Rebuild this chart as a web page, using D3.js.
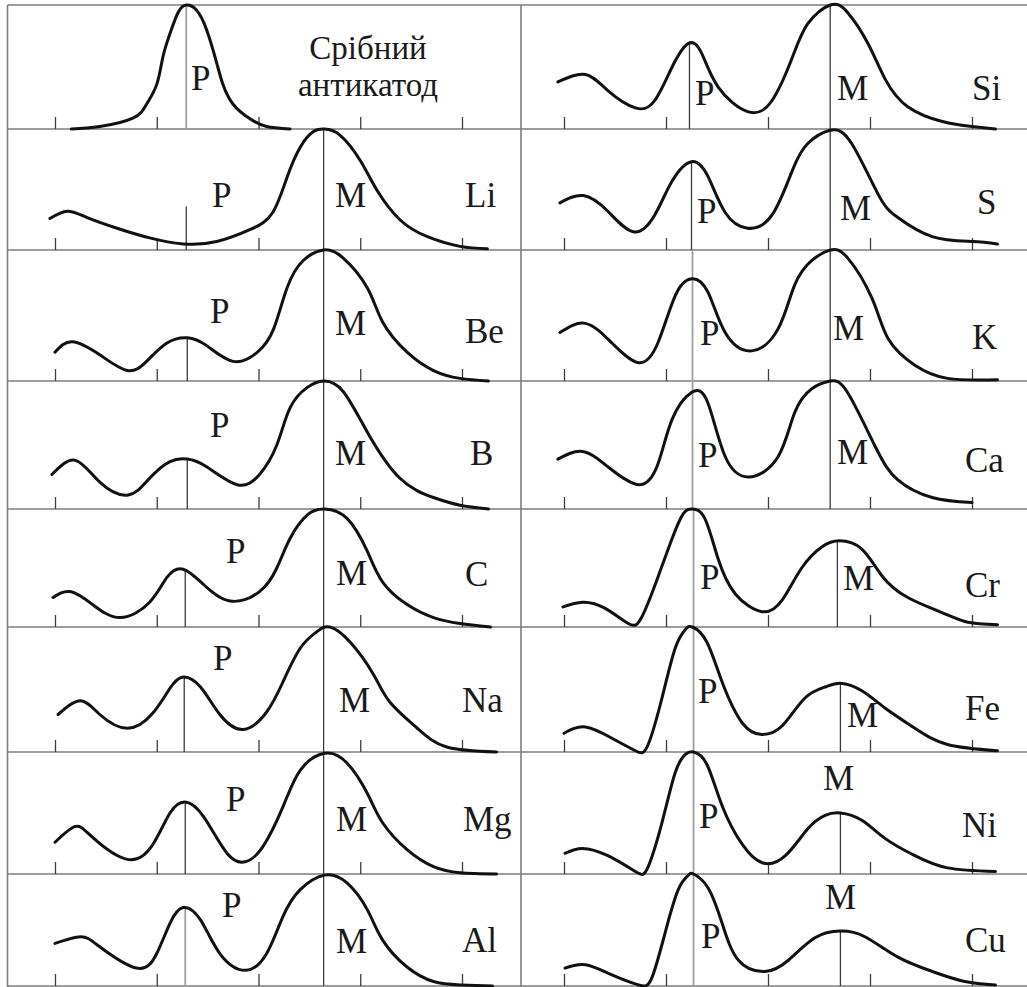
<!DOCTYPE html>
<html>
<head>
<meta charset="utf-8">
<script src="https://cdn.jsdelivr.net/npm/d3@7"></script>
<style>
  html, body { margin: 0; padding: 0; background: #fff; }
  svg { display: block; }
</style>
</head>
<body>
<svg id="chart" width="1027" height="987"></svg>
<script>
// Intensity profiles: [position in tick units (0..4), height as share of the panel]
const curveAg = [[0.16,0],[0.44,0.02],[0.77,0.09],[0.90,0.20],[1.0,0.36],[1.06,0.58],[1.13,0.77],[1.21,0.94],[1.29,1.0],[1.39,0.96],[1.49,0.80],[1.59,0.53],[1.65,0.36],[1.75,0.20],[1.92,0.08],[2.08,0.02],[2.31,0]];
const curveLi = [[-0.05,0.26],[0.12,0.32],[0.31,0.27],[0.61,0.18],[0.93,0.10],[1.26,0.05],[1.59,0.07],[1.92,0.17],[2.14,0.31],[2.28,0.60],[2.41,0.85],[2.54,0.98],[2.65,1.0],[2.80,0.95],[3.0,0.74],[3.16,0.50],[3.39,0.25],[3.66,0.11],[3.98,0.03],[4.25,0.01]];
const curveBe = [[0,0.22],[0.17,0.30],[0.44,0.20],[0.71,0.08],[0.90,0.15],[1.10,0.29],[1.30,0.33],[1.49,0.27],[1.75,0.15],[1.99,0.22],[2.15,0.40],[2.28,0.71],[2.44,0.92],[2.64,1.0],[2.83,0.94],[3.07,0.71],[3.22,0.45],[3.46,0.22],[3.72,0.08],[3.98,0.02],[4.26,0]];
const curveB  = [[-0.03,0.27],[0.2,0.38],[0.44,0.21],[0.72,0.11],[0.93,0.24],[1.13,0.37],[1.30,0.39],[1.49,0.33],[1.79,0.19],[2.01,0.27],[2.18,0.50],[2.31,0.79],[2.48,0.95],[2.64,1.0],[2.83,0.92],[3.07,0.60],[3.39,0.24],[3.72,0.09],[3.98,0.03],[4.26,0]];
const curveC  = [[-0.02,0.25],[0.15,0.30],[0.37,0.19],[0.64,0.08],[0.93,0.21],[1.10,0.42],[1.26,0.49],[1.46,0.36],[1.72,0.22],[2.01,0.30],[2.18,0.50],[2.31,0.75],[2.48,0.95],[2.65,1.0],[2.87,0.92],[3.07,0.64],[3.22,0.38],[3.46,0.19],[3.72,0.08],[3.98,0.03],[4.28,0]];
const curveNa = [[0.03,0.30],[0.25,0.41],[0.44,0.30],[0.71,0.19],[0.96,0.31],[1.13,0.51],[1.26,0.60],[1.43,0.52],[1.62,0.30],[1.85,0.18],[2.08,0.32],[2.24,0.56],[2.41,0.83],[2.57,0.96],[2.70,1.0],[2.90,0.88],[3.13,0.62],[3.29,0.40],[3.56,0.19],[3.85,0.04],[4.34,0]];
const curveMg = [[0,0.26],[0.2,0.39],[0.37,0.30],[0.71,0.12],[0.96,0.24],[1.13,0.50],[1.28,0.59],[1.46,0.47],[1.69,0.17],[1.87,0.10],[2.04,0.22],[2.24,0.55],[2.41,0.85],[2.65,0.99],[2.87,0.91],[3.07,0.66],[3.22,0.42],[3.46,0.20],[3.72,0.06],[3.98,0.01],[4.34,0]];
const curveAl = [[0,0.38],[0.25,0.44],[0.44,0.35],[0.80,0.16],[1.0,0.29],[1.13,0.56],[1.26,0.70],[1.43,0.59],[1.62,0.29],[1.87,0.14],[2.08,0.29],[2.24,0.62],[2.41,0.86],[2.65,0.99],[2.87,0.92],[3.07,0.68],[3.22,0.41],[3.46,0.17],[3.72,0.04],[3.98,0.01],[4.3,0]];

const curveSi = [[-0.06,0.38],[0.21,0.44],[0.43,0.31],[0.70,0.17],[0.89,0.23],[1.06,0.50],[1.22,0.69],[1.35,0.61],[1.51,0.34],[1.80,0.14],[2.04,0.23],[2.24,0.58],[2.39,0.85],[2.61,1.0],[2.78,0.94],[2.98,0.69],[3.15,0.40],[3.37,0.18],[3.71,0.06],[4.0,0.02],[4.23,0]];
const curveS  = [[-0.04,0.39],[0.19,0.45],[0.43,0.32],[0.68,0.15],[0.89,0.29],[1.06,0.57],[1.25,0.73],[1.41,0.61],[1.58,0.31],[1.80,0.18],[2.04,0.29],[2.24,0.66],[2.39,0.88],[2.61,0.99],[2.82,0.88],[3.08,0.46],[3.27,0.27],[3.61,0.11],[4.0,0.07],[4.25,0.05]];
const curveK  = [[-0.04,0.37],[0.21,0.44],[0.47,0.29],[0.73,0.14],[0.92,0.29],[1.09,0.65],[1.25,0.78],[1.41,0.68],[1.58,0.37],[1.84,0.23],[2.10,0.40],[2.26,0.73],[2.43,0.92],[2.61,1.0],[2.78,0.94],[3.02,0.63],[3.18,0.32],[3.44,0.12],[3.76,0.02],[4.25,0.01]];
const curveCa = [[-0.06,0.39],[0.18,0.45],[0.43,0.33],[0.73,0.19],[0.92,0.35],[1.06,0.70],[1.25,0.91],[1.41,0.83],[1.58,0.41],[1.82,0.25],[2.10,0.41],[2.26,0.75],[2.43,0.94],[2.61,1.0],[2.78,0.91],[3.05,0.49],[3.27,0.23],[3.61,0.09],[4.0,0.05]];
const curveCr = [[-0.01,0.17],[0.18,0.21],[0.40,0.16],[0.63,0.03],[0.76,0.08],[0.92,0.42],[1.06,0.75],[1.17,0.96],[1.26,1.0],[1.38,0.92],[1.51,0.58],[1.68,0.28],[1.94,0.13],[2.14,0.23],[2.33,0.50],[2.53,0.68],[2.70,0.73],[2.92,0.66],[3.12,0.43],[3.37,0.25],[3.71,0.12],[3.96,0.04],[4.25,0.02]];
const curveFe = [[0,0.15],[0.21,0.20],[0.47,0.11],[0.70,0.01],[0.82,0.05],[0.96,0.43],[1.09,0.83],[1.19,0.98],[1.26,1.0],[1.40,0.88],[1.55,0.56],[1.75,0.23],[1.94,0.14],[2.14,0.21],[2.36,0.43],[2.56,0.52],[2.71,0.55],[2.92,0.49],[3.15,0.35],[3.44,0.19],[3.76,0.06],[4.25,0.01]];
const curveNi = [[0.01,0.17],[0.18,0.21],[0.43,0.15],[0.70,0.02],[0.82,0.05],[0.96,0.42],[1.09,0.83],[1.19,0.98],[1.27,1.0],[1.40,0.90],[1.55,0.56],[1.75,0.24],[1.95,0.09],[2.17,0.15],[2.39,0.37],[2.56,0.48],[2.71,0.50],[2.92,0.44],[3.15,0.29],[3.44,0.15],[3.76,0.05],[4.23,0.02]];
const curveCu = [[0.01,0.16],[0.21,0.19],[0.47,0.10],[0.73,0.01],[0.86,0.07],[0.99,0.47],[1.12,0.86],[1.22,0.99],[1.27,1.0],[1.41,0.88],[1.55,0.56],[1.71,0.23],[1.97,0.13],[2.20,0.23],[2.46,0.43],[2.71,0.49],[2.95,0.44],[3.27,0.26],[3.61,0.13],[3.93,0.04],[4.23,0.01]];

// Panel names, top to bottom
const leftNames  = ["Срібний антикатод", "Li", "Be", "B", "C", "Na", "Mg", "Al"];
const rightNames = ["Si", "S", "K", "Ca", "Cr", "Fe", "Ni", "Cu"];
const leftCurves  = [curveAg, curveLi, curveBe, curveB, curveC, curveNa, curveMg, curveAl];
const rightCurves = [curveSi, curveS, curveK, curveCa, curveCr, curveFe, curveNi, curveCu];

// Marker lines P and M: position (tick units) and height (share of panel)
const leftPPos  = [1.29, 1.29, 1.30, 1.30, 1.28, 1.27, 1.28, 1.28];
const leftPTop  = [1.0, 0.36, 0.33, 0.39, 0.49, 0.60, 0.59, 0.70];
const leftMPos  = [null, 2.64, 2.64, 2.64, 2.64, 2.64, 2.64, 2.64];
const leftMTop  = [null, 1.0, 1.0, 1.0, 1.0, 1.0, 1.0, 1.0];
const rightPPos = [1.23, 1.25, 1.26, 1.26, 1.27, 1.27, 1.27, 1.27];
const rightPTop = [0.69, 0.73, 1.0, 1.0, 1.0, 1.0, 1.0, 1.0];
const rightMPos = [2.61, 2.61, 2.61, 2.61, 2.68, 2.71, 2.71, 2.71];
const rightMTop = [1.0, 1.0, 1.0, 1.0, 0.73, 0.55, 0.50, 0.49];

const tickValues = [0, 1, 2, 3, 4];

// ---- layout ----
const W = 1027, H = 987;
const rowTops = [5, 129, 250, 381, 509, 627, 752, 874];
const lastBottom = 986;
const columns = [
  { left: 7.5, right: 521, x0: 55,  step: 101.75 },
  { left: 521, right: 1027, x0: 564, step: 102 }
];
// label offsets: [P dx, P dy, M dx, M dy, name dx, name dy] from column origin / row top
const leftSpots = [
  [136, 85, null, null, 313, 54],
  [157, 78, 280, 78, 410, 78],
  [155, 73, 280, 85, 410, 93],
  [155, 56, 280, 84, 415, 84],
  [171, 54, 281, 76, 410, 77],
  [158, 43, 284, 85, 407, 85],
  [171, 59, 281, 79, 408, 79],
  [167, 43, 281, 79, 407, 78]
];
const rightSpots = [
  [131, 100, 273, 95, 408, 95],
  [133, 94, 276, 91, 413, 85],
  [136, 95, 269, 90, 408, 99],
  [134, 86, 273, 83, 401, 91],
  [136, 80, 279, 81, 401, 88],
  [134, 76, 283, 100, 401, 93],
  [135, 76, 259, 38, 398, 85],
  [137, 74, 261, 35, 401, 78]
];
const leftPFaint  = [true, false, false, false, false, false, false, true];
const rightPFaint = [false, false, true, true, true, true, true, true];

const FRAME = "#7d7d7d", INK = "#111", MARK = "#3c3c3c", FAINT = "#a0a0a0";
const FONT = "'Liberation Serif', 'Times New Roman', 'DejaVu Serif', serif";
const FONT_SIZE = 35;
const CAPTION_SIZE = 33, CAPTION_LEAD = 37;

const svg = d3.select("#chart");

// outer frame: top rule and column dividers
svg.append("line").attr("x1", columns[0].left).attr("x2", W).attr("y1", rowTops[0]).attr("y2", rowTops[0])
  .attr("stroke", FRAME).attr("stroke-width", 1.6);
columns.forEach(c => {
  svg.append("line").attr("x1", c.left).attr("x2", c.left).attr("y1", rowTops[0]).attr("y2", H)
    .attr("stroke", FRAME).attr("stroke-width", 1.6);
});

function drawColumn(col, curves, names, pPos, pTop, mPos, mTop, spots, pFaint) {
  const x = d3.scaleLinear().domain([0, 4]).range([col.x0, col.x0 + 4 * col.step]);
  curves.forEach((data, i) => {
    const top = rowTops[i];
    const bottom = i + 1 < rowTops.length ? rowTops[i + 1] : lastBottom;
    const y = d3.scaleLinear().domain([0, 1]).range([bottom, top]);
    const g = svg.append("g");

    // baseline rule
    g.append("line").attr("x1", col.left).attr("x2", col.right).attr("y1", bottom).attr("y2", bottom)
      .attr("stroke", FRAME).attr("stroke-width", 1.6);

    // tick marks pointing up
    const axis = d3.axisBottom(x).tickValues(tickValues).tickSizeInner(-12).tickSizeOuter(0).tickFormat("");
    const ag = g.append("g").attr("transform", `translate(0,${bottom})`).call(axis);
    ag.select(".domain").remove();
    ag.selectAll(".tick line").attr("stroke", MARK).attr("stroke-width", 1.3);

    // P and M marker lines
    g.append("line").attr("x1", x(pPos[i])).attr("x2", x(pPos[i]))
      .attr("y1", y(0)).attr("y2", y(pTop[i]))
      .attr("stroke", pFaint[i] ? FAINT : MARK).attr("stroke-width", pFaint[i] ? 1.8 : 1.3);
    if (mPos[i] != null) {
      g.append("line").attr("x1", x(mPos[i])).attr("x2", x(mPos[i]))
        .attr("y1", y(0)).attr("y2", y(mTop[i]))
        .attr("stroke", MARK).attr("stroke-width", 1.3);
    }

    // profile
    const line = d3.line().x(d => x(d[0])).y(d => y(d[1])).curve(d3.curveNatural);
    g.append("path").datum(data).attr("d", line)
      .attr("fill", "none").attr("stroke", INK).attr("stroke-width", 3)
      .attr("stroke-linejoin", "round").attr("stroke-linecap", "round");

    // labels
    const s = spots[i];
    const txt = (tx, ty, anchor, size) => g.append("text")
      .attr("x", col.x0 + tx).attr("y", top + ty)
      .attr("text-anchor", anchor || "start")
      .attr("font-family", FONT).attr("font-size", size || FONT_SIZE).attr("fill", "#1a1a1a");
    txt(s[0], s[1]).text("P");
    if (s[2] != null) txt(s[2], s[3]).text("M");
    const parts = names[i].split(" ");
    if (parts.length > 1) {
      // two-line caption
      parts.forEach((p, k) => txt(s[4], s[5] + k * CAPTION_LEAD, "middle", CAPTION_SIZE).text(p));
    } else {
      txt(s[4], s[5]).text(names[i]);
    }
  });
}

drawColumn(columns[0], leftCurves, leftNames, leftPPos, leftPTop, leftMPos, leftMTop, leftSpots, leftPFaint);
drawColumn(columns[1], rightCurves, rightNames, rightPPos, rightPTop, rightMPos, rightMTop, rightSpots, rightPFaint);
</script>
</body>
</html>
